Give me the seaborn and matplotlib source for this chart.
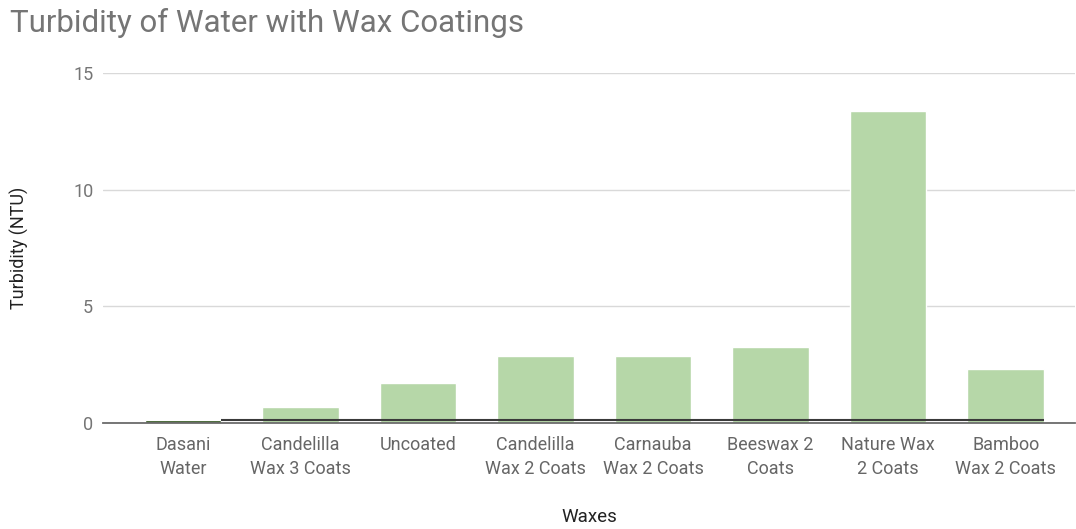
import matplotlib
matplotlib.use("Agg")
import matplotlib.pyplot as plt
import seaborn as sns
import pandas as pd

# Chart data
categories = [
    "Dasani\nWater",
    "Candelilla\nWax 3 Coats",
    "Uncoated",
    "Candelilla\nWax 2 Coats",
    "Carnauba\nWax 2 Coats",
    "Beeswax 2\nCoats",
    "Nature Wax\n2 Coats",
    "Bamboo\nWax 2 Coats",
]
turbidity = [0.13, 0.69, 1.71, 2.86, 2.86, 3.26, 13.39, 2.30]
reference_level = 0.13  # Dasani water level drawn across the other bars
y_ticks = [0, 5, 10, 15]

bar_colors = ["#274e13"] + ["#b6d7a8"] * (len(categories) - 1)

df = pd.DataFrame({"Waxes": categories, "Turbidity": turbidity})

sns.set_theme(style="white")
plt.rcParams["font.family"] = ["Roboto", "DejaVu Sans"]

W, H = 1076, 529
fig = plt.figure(figsize=(W / 100, H / 100), dpi=100)
ax = fig.add_axes([103 / W, 1 - 423 / H, (1075 - 103) / W, (423 - 73) / H])

bar_width = 0.65
sns.barplot(
    data=df, x="Waxes", y="Turbidity", hue="Waxes", palette=bar_colors,
    legend=False, width=bar_width, ax=ax, zorder=2, saturation=1,
)

# Reference line at the Dasani level spanning the remaining bars
half = bar_width / 2
ax.hlines(reference_level, half, len(categories) - 1 + half,
          color="#3a3a3a", linewidth=1.5, zorder=3)

ax.set_ylim(0, 15)
ax.set_xlim(-0.68, 7.59)
ax.set_yticks(y_ticks)
ax.yaxis.grid(True, color="#d9d9d9", linewidth=1, zorder=0)
ax.set_axisbelow(True)
for s in ["top", "right", "left"]:
    ax.spines[s].set_visible(False)
ax.spines["bottom"].set_color("#6b6b6b")
ax.spines["bottom"].set_linewidth(1.3)
ax.spines["bottom"].set_zorder(4)

ax.tick_params(axis="y", length=0, pad=7, labelsize=13, labelcolor="#757575")
ax.tick_params(axis="x", length=0, pad=9, labelsize=13, labelcolor="#666666")
for lbl in ax.get_xticklabels():
    lbl.set_linespacing(1.45)

ax.set_xlabel("Waxes", fontsize=13.5, color="#222222", labelpad=22)
ax.set_ylabel("Turbidity (NTU)", fontsize=13, color="#222222", labelpad=32)

fig.text(10 / W, 1 - 23 / H, "Turbidity of Water with Wax Coatings",
         fontsize=22.5, color="#757575", va="center", ha="left")

fig.savefig("out.png", dpi=100)
